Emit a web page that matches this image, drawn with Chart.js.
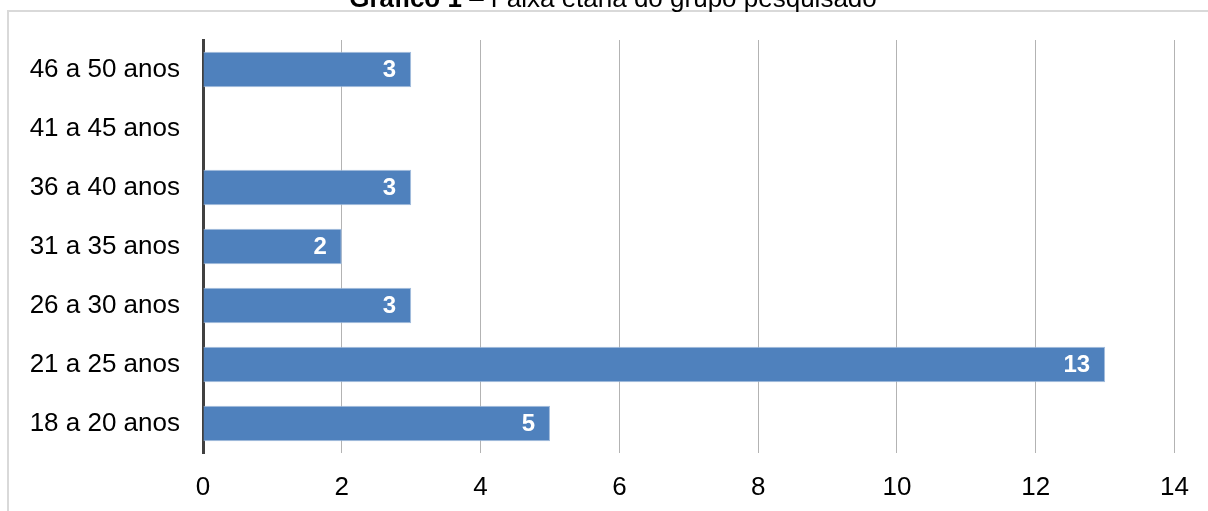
<!DOCTYPE html>
<html>
<head>
<meta charset="utf-8">
<script src="https://cdn.jsdelivr.net/npm/chart.js@4"></script>
<style>
  html, body { margin: 0; padding: 0; background: #ffffff; }
  #wrap { position: relative; width: 1208px; height: 511px; }
</style>
</head>
<body>
<div id="wrap"><canvas id="c" width="1208" height="511"></canvas></div>
<script>
// Faixa etária do grupo pesquisado
const categories = ['18 a 20 anos', '21 a 25 anos', '26 a 30 anos', '31 a 35 anos', '36 a 40 anos', '41 a 45 anos', '46 a 50 anos'];
const counts = [5, 13, 3, 2, 3, 0, 3];
const xTicks = [0, 2, 4, 6, 8, 10, 12, 14];
const titleBold = 'Gráfico 1';
const titleRest = ' – Faixa etária do grupo pesquisado';

const FONT = '"Liberation Sans", Arial, sans-serif';

// Light frame and the title at the top of the page
const framePlugin = {
  id: 'frame',
  beforeDraw(chart) {
    const ctx = chart.ctx;
    ctx.save();
    ctx.strokeStyle = '#d9d9d9';
    ctx.lineWidth = 2;
    ctx.beginPath();
    ctx.moveTo(8, 511);
    ctx.lineTo(8, 11);
    ctx.lineTo(1208, 11);
    ctx.stroke();

    ctx.fillStyle = '#000000';
    ctx.textBaseline = 'alphabetic';
    ctx.textAlign = 'left';
    ctx.font = 'bold 26px ' + FONT;
    const wb = ctx.measureText(titleBold).width;
    ctx.font = '26px ' + FONT;
    const wr = ctx.measureText(titleRest).width;
    const x0 = 613 - (wb + wr) / 2;
    ctx.font = 'bold 26px ' + FONT;
    ctx.fillText(titleBold, x0, 7);
    ctx.font = '26px ' + FONT;
    ctx.fillText(titleRest, x0 + wb, 7);
    ctx.restore();
  }
};

// White value labels inside the end of each bar
const valueLabels = {
  id: 'valueLabels',
  afterDatasetsDraw(chart) {
    const ctx = chart.ctx;
    const meta = chart.getDatasetMeta(0);
    ctx.save();
    ctx.fillStyle = '#ffffff';
    ctx.font = 'bold 24px ' + FONT;
    ctx.textAlign = 'right';
    ctx.textBaseline = 'middle';
    meta.data.forEach((bar, i) => {
      const v = counts[i];
      if (!v) return;
      ctx.fillText(String(v), bar.x - 15, bar.y + 1);
    });
    ctx.restore();
  }
};

new Chart(document.getElementById('c'), {
  type: 'bar',
  data: {
    labels: categories,
    datasets: [{
      data: counts,
      backgroundColor: '#4f81bd',
      borderColor: '#a3bddd',
      borderWidth: 1,
      categoryPercentage: 1,
      barPercentage: 0.6
    }]
  },
  options: {
    indexAxis: 'y',
    responsive: false,
    animation: false,
    layout: { padding: { top: 40, right: 33, bottom: 0, left: 0 } },
    plugins: { legend: { display: false }, tooltip: { enabled: false }, title: { display: false } },
    scales: {
      x: {
        min: 0,
        max: 14,
        afterBuildTicks(scale) { scale.ticks = xTicks.map(v => ({ value: v })); },
        afterFit(scale) { scale.height = 58; },
        grid: { display: true, color: '#b3b3b3', lineWidth: 1, drawTicks: false },
        border: { display: false },
        ticks: { color: '#000000', padding: 19, font: { family: FONT, size: 26 } }
      },
      y: {
        reverse: true,
        afterFit(scale) { scale.width = 203; },
        grid: { display: false, drawTicks: false },
        border: { display: true, color: '#404040', width: 3 },
        ticks: { color: '#000000', padding: 23, font: { family: FONT, size: 26 } }
      }
    }
  },
  plugins: [framePlugin, valueLabels]
});
</script>
</body>
</html>
